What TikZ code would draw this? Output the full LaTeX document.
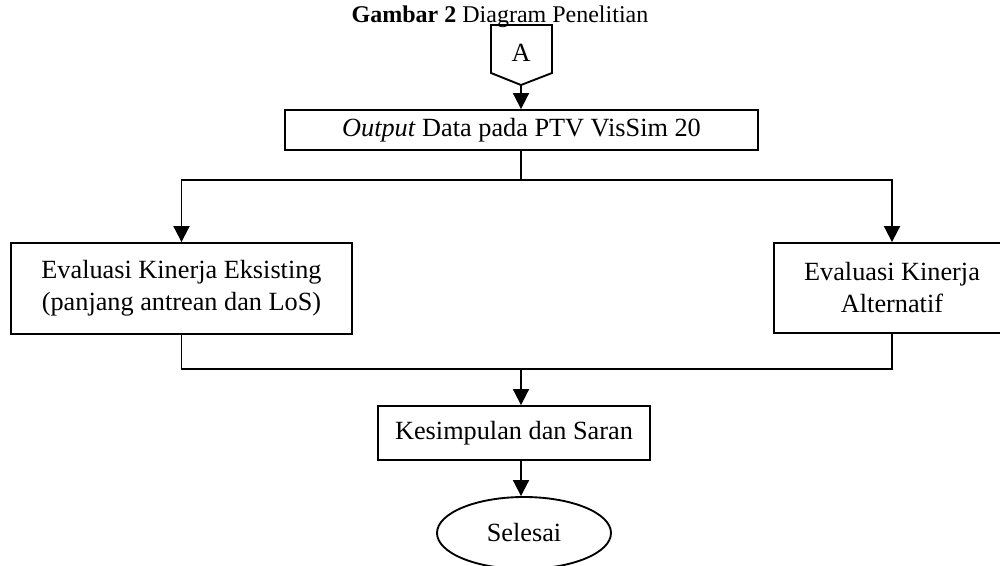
\documentclass[tikz,border=0pt]{standalone}
\usepackage{fontspec}
\setmainfont{Liberation Serif}
\usetikzlibrary{arrows.meta,shapes.geometric}
\begin{document}
\begin{tikzpicture}[x=0.75pt,y=-0.75pt,
  line width=1.4pt,
  arr/.style={-{Triangle[width=12pt,length=12pt]}},
  boxs/.style={draw,rectangle,align=center,inner sep=0pt,font=\fontsize{19.7}{24}\selectfont},
  txt/.style={font=\fontsize{19.7}{24}\selectfont}]
\useasboundingbox (0,0) rectangle (1000,565);
% title
\node[anchor=base,font=\fontsize{18}{22}\selectfont] (title) at (500,22) {\textbf{Gambar 2} Diagram Penelitian};
% pentagon connector
\draw (491,25) -- (552,25) -- (552,73) -- (521,85) -- (491,73) -- cycle;
\node[txt] (A) at (521,53) {A};
\coordinate (atip) at (521,85);
% boxes
\node[boxs,minimum width=473*0.75pt,minimum height=40*0.75pt] (out) at (521.5,130) {\textit{Output} Data pada PTV VisSim 20};
\node[boxs,minimum width=341*0.75pt,minimum height=91*0.75pt] (left) at (181.5,288.5) {Evaluasi Kinerja Eksisting\\(panjang antrean dan LoS)};
\node[boxs,minimum width=236*0.75pt,minimum height=90*0.75pt] (right) at (892,288) {Evaluasi Kinerja\\Alternatif};
\node[boxs,minimum width=272*0.75pt,minimum height=54*0.75pt] (kes) at (514,433) {Kesimpulan dan Saran};
\node[draw,ellipse,txt,minimum width=174*0.75pt,minimum height=72*0.75pt,inner sep=0pt] (end) at (524,533) {Selesai};
\coordinate (split) at (521,180);
\coordinate (merge) at (521,369);
% connectors
\draw[arr] (atip) -- (atip |- out.north);
\draw (atip |- out.south) -- (split);
\draw[arr] (split) -| (left.north);
\draw[arr] (split) -| (right.north);
\draw (left.south) |- (merge);
\draw (right.south) |- (merge);
\draw[arr] (merge) -- (merge |- kes.north);
\draw[arr] (merge |- kes.south) -- (merge |- end.north);
\end{tikzpicture}
\end{document}
